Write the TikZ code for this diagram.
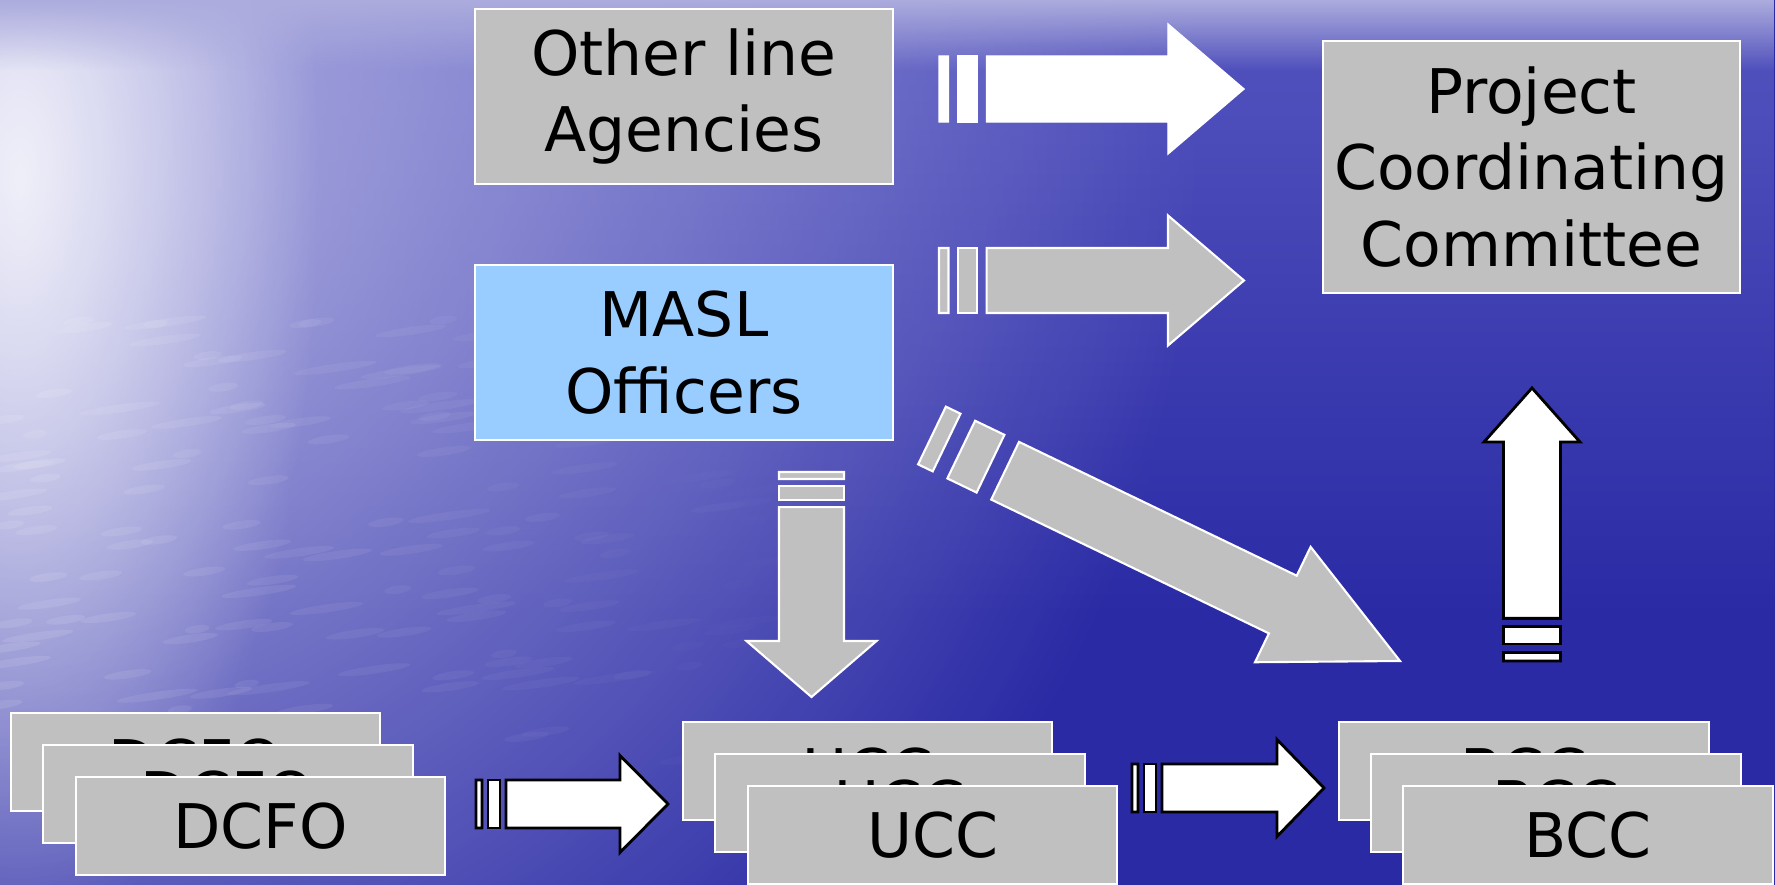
\documentclass[tikz,border=0pt]{standalone}
\usepackage{fontspec}
\setmainfont{DejaVu Sans}
\usetikzlibrary{calc,positioning,fadings}

\definecolor{boxgray}{RGB}{192,192,192}
\definecolor{maslblue}{RGB}{153,204,255}
\definecolor{seadeep}{RGB}{42,42,165}
\definecolor{seamid}{RGB}{85,85,192}
\definecolor{seahaze}{RGB}{180,180,228}
\definecolor{skyband}{RGB}{172,172,222}

\tikzfading[name=softglow, inner color=transparent!0, outer color=transparent!100]

% striped block arrow: [style]{tail}{tip}{shaft half width}{head half width}{head length}
\newcommand{\stripedarrow}[6][]{%
  \draw[#1] ($(#2)!#4!90:(#3)$) -- ($(#2)!0.03125!(#3)!#4!90:(#3)$) -- ($(#2)!0.03125!(#3)!#4!-90:(#3)$) -- ($(#2)!#4!-90:(#3)$) -- cycle;
  \draw[#1] ($(#2)!0.0625!(#3)!#4!90:(#3)$) -- ($(#2)!0.125!(#3)!#4!90:(#3)$) -- ($(#2)!0.125!(#3)!#4!-90:(#3)$) -- ($(#2)!0.0625!(#3)!#4!-90:(#3)$) -- cycle;
  \draw[#1] ($(#2)!0.15625!(#3)!#4!90:(#3)$) -- ($(#3)!#6!(#2)!#4!-90:(#2)$) -- ($(#3)!#6!(#2)!#5!-90:(#2)$) -- (#3) -- ($(#3)!#6!(#2)!#5!90:(#2)$) -- ($(#3)!#6!(#2)!#4!90:(#2)$) -- ($(#2)!0.15625!(#3)!#4!-90:(#3)$) -- cycle;
}

\begin{document}
\begin{tikzpicture}[x=0.01cm, y=-0.01cm,
    box/.style={draw=white, line width=0.6pt, fill=boxgray, inner sep=0pt, align=center,
      font=\fontsize{17.5}{21.8}\selectfont, minimum width=3.69cm, minimum height=0.98cm},
    bigbox/.style={box, minimum width=4.18cm, minimum height=1.75cm},
    whitearrow/.style={fill=white, draw=white, line width=0.4pt},
    grayarrow/.style={fill=boxgray, draw=white, line width=0.6pt},
    blackarrow/.style={fill=white, draw=black, line width=0.8pt}]
  \useasboundingbox (0,0) rectangle (1775,885);

  % sea background
  \begin{scope}
    \clip (0,0) rectangle (1775,885);
    \fill[seadeep] (0,0) rectangle (1775,885);
    \fill[seamid, path fading=south] (0,0) rectangle (1775,620);
    \fill[seahaze, path fading=softglow] (0,150) ellipse (1200 and 1150);
    \fill[white, path fading=softglow, fill opacity=0.8] (20,180) ellipse (300 and 760);
    % ripples
    \pgfmathsetseed{11}
    \foreach \i in {1,...,160}{
      \pgfmathsetmacro\wx{rnd*800}
      \pgfmathsetmacro\wy{320+rnd*440}
      \pgfmathsetmacro\wl{12+rnd*30}
      \pgfmathsetmacro\wo{0.1*(1-\wx/850)}
      \fill[white, opacity=\wo, rotate around={8:(\wx,\wy)}] (\wx,\wy) ellipse [x radius=\wl, y radius=4];
    }
    \fill[skyband, path fading=south] (0,0) rectangle (1775,70);
  \end{scope}

  % boxes
  \node[bigbox] (other) at (684,96.5) {Other line\\Agencies};
  \node[bigbox, fill=maslblue] (masl) at (684,352.5) {MASL\\Officers};
  \node[bigbox, minimum width=4.17cm, minimum height=2.52cm] (pcc) at (1531.5,167) {Project\\Coordinating\\Committee};

  \node[box] (dcfo1) at (195.5,762) {DCFO};
  \node[box] (dcfo2) at ([shift={(32.5,32)}]dcfo1) {DCFO};
  \node[box] (dcfo3) at ([shift={(32.5,32)}]dcfo2) {DCFO};

  \node[box] (ucc1) at (867.5,771) {UCC};
  \node[box] (ucc2) at ([shift={(32.5,32)}]ucc1) {UCC};
  \node[box] (ucc3) at ([shift={(32.5,32)}]ucc2) {UCC};

  \node[box] (bcc1) at (1524,771) {BCC};
  \node[box] (bcc2) at ([shift={(32,32)}]bcc1) {BCC};
  \node[box] (bcc3) at ([shift={(32,32)}]bcc2) {BCC};

  % arrow ends
  \coordinate (ot) at (939,89);
  \coordinate (oh) at (1244,89);
  \coordinate (mt) at (939,280.5);
  \coordinate (mh) at (1244,280.5);
  \coordinate (dt) at (811.5,472);
  \coordinate (dh) at (811.5,697);
  \coordinate (gt) at (932,435.5);
  \coordinate (gh) at (1400,661);
  \coordinate (ut) at (1532,661);
  \coordinate (uh) at (1532,388);
  \coordinate (ft) at (476,804);
  \coordinate (fh) at (668,804);
  \coordinate (ct) at (1132,788);
  \coordinate (ch) at (1324,788);

  % arrows
  \stripedarrow[whitearrow]{ot}{oh}{0.33cm}{0.65cm}{0.76cm}
  \stripedarrow[grayarrow]{mt}{mh}{0.325cm}{0.65cm}{0.76cm}
  \stripedarrow[grayarrow]{dt}{dh}{0.325cm}{0.65cm}{0.56cm}
  \stripedarrow[grayarrow]{gt}{gh}{0.32cm}{0.64cm}{1.3cm}
  \stripedarrow[blackarrow]{ut}{uh}{0.285cm}{0.48cm}{0.54cm}
  \stripedarrow[blackarrow]{ft}{fh}{0.24cm}{0.485cm}{0.48cm}
  \stripedarrow[blackarrow]{ct}{ch}{0.24cm}{0.485cm}{0.47cm}
\end{tikzpicture}
\end{document}
